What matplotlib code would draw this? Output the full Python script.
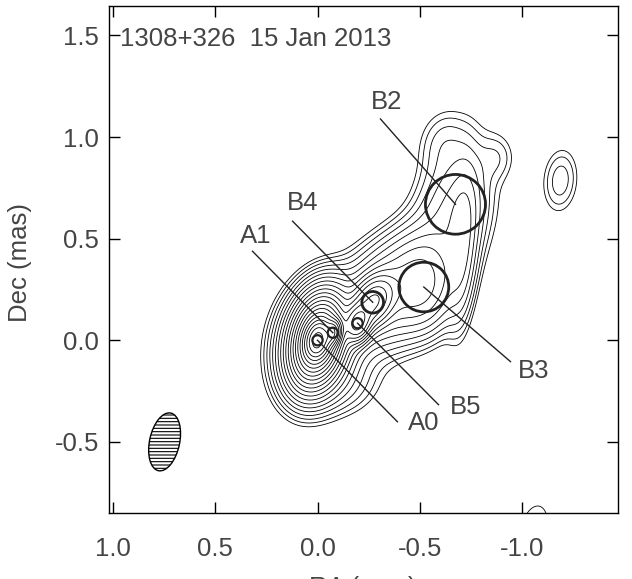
import numpy as np
import matplotlib
matplotlib.use("Agg")
import matplotlib.pyplot as plt
from matplotlib.patches import Circle, Ellipse

plt.rcParams['font.family'] = ['Liberation Sans', 'DejaVu Sans']
plt.rcParams['hatch.linewidth'] = 0.8

TEXT_COL = '#444444'

# model components (RA mas, Dec mas, peak, FWHM major, FWHM minor, PA deg)
src_ra = [0.0, 0.0, 0.0, 0.0, 0.0, -0.075, -0.196, -0.27, -0.38, -0.52, -0.62, -0.71, -0.675, -0.62, -0.88, 0.02, -1.188, -1.06, -0.1]
src_dec = [0.0, 0.0, 0.0, 0.0, -0.05, 0.037, 0.084, 0.187, 0.25, 0.26, 0.55, 0.45, 0.669, 0.98, 0.9, 0.54, 0.786, -0.93, -0.22]
src_amp = [0.5, 0.28, 0.09, 0.01, 0.0012, 0.25, 0.06, 0.04, 0.01, 0.006, 0.0022, 0.004, 0.002, 0.0013, 0.0009, 0.0006, 0.0017, 0.0012, 0.0015]
src_maj = [0.11, 0.19, 0.29, 0.36, 0.5, 0.08, 0.12, 0.18, 0.45, 0.3, 0.7, 0.55, 0.35, 0.26, 0.18, 0.1, 0.26, 0.26, 0.22]
src_min = [0.07, 0.11, 0.165, 0.25, 0.36, 0.05, 0.08, 0.12, 0.3, 0.2, 0.28, 0.1, 0.25, 0.2, 0.14, 0.08, 0.14, 0.14, 0.3]
src_pa = [-12, -12, -12, -12, -12, -12, -12, -30, -45, 0, -20, -3, 0, -10, 0, 0, -5, -12, 0]

# contour levels: lowest level, doubling every two steps
lowest = 0.00069
n_levels = 22

# fitted components
comp_names = ['A0', 'A1', 'B5', 'B4', 'B3', 'B2']
comp_ra = [0.0, -0.075, -0.196, -0.27, -0.52, -0.675]
comp_dec = [0.0, 0.037, 0.084, 0.187, 0.262, 0.669]
comp_radius = [0.025, 0.025, 0.025, 0.053, 0.122, 0.147]

# restoring beam
beam_maj = 0.29
beam_min = 0.147
beam_pa = -12

# label text positions and leader line ends
label_pos = {'A0': (-0.518, -0.406), 'A1': (0.303, 0.512), 'B5': (-0.724, -0.327),
             'B4': (0.073, 0.674), 'B3': (-1.056, -0.149), 'B2': (-0.337, 1.173)}
line_end = {'A0': (-0.391, -0.401), 'A1': (0.318, 0.438), 'B5': (-0.592, -0.317),
            'B4': (0.122, 0.586), 'B3': (-0.944, -0.105), 'B2': (-0.308, 1.089)}

x = np.linspace(-1.6, 1.1, 700)
y = np.linspace(-1.1, 1.8, 700)
X, Y = np.meshgrid(x, y)
Z = np.zeros_like(X)
for ra, dec, a, mj, mn, pa in zip(src_ra, src_dec, src_amp, src_maj, src_min, src_pa):
    t = np.radians(pa)
    dx = X - ra
    dy = Y - dec
    u = dx * np.sin(t) + dy * np.cos(t)   # along major axis
    v = dx * np.cos(t) - dy * np.sin(t)
    sj = mj / 2.3548
    sn = mn / 2.3548
    Z += a * np.exp(-0.5 * ((u / sj) ** 2 + (v / sn) ** 2))

levels = lowest * 2 ** (np.arange(n_levels) / 2.0)

fig = plt.figure(figsize=(6.32, 5.79), dpi=100)
ax = fig.add_axes([109 / 632, 66 / 579, 509 / 632, 507 / 579])
ax.contour(X, Y, Z, levels=levels, colors='k', linewidths=0.6)

for name, ra, dec, r in zip(comp_names, comp_ra, comp_dec, comp_radius):
    lw = 2.0 if r > 0.04 else 1.6
    ax.add_patch(Circle((ra, dec), r, fill=False, ec='#222222', lw=lw, zorder=4))
    ex, ey = line_end[name]
    ax.plot([ra, ex], [dec, ey], color='#222222', lw=1.0, zorder=4)
    lx, ly = label_pos[name]
    ax.text(lx, ly, name, fontsize=18.5, color=TEXT_COL, ha='center', va='center', zorder=5)

ax.add_patch(Ellipse((0.748, -0.5), beam_min, beam_maj, angle=-beam_pa,
                     fc='white', ec='k', lw=1.0, hatch='-----'))

ax.set_xlim(1.02, -1.47)
ax.set_ylim(-0.85, 1.645)
ax.set_xticks([1.0, 0.5, 0.0, -0.5, -1.0])
ax.set_yticks([-0.5, 0.0, 0.5, 1.0, 1.5])
ax.set_xticklabels(['1.0', '0.5', '0.0', '-0.5', '-1.0'])
ax.set_yticklabels(['-0.5', '0.0', '0.5', '1.0', '1.5'])
ax.tick_params(direction='in', top=True, right=True, length=8, width=1.0,
               labelsize=18.5, labelcolor=TEXT_COL)
ax.tick_params(axis='x', pad=17)
ax.tick_params(axis='y', pad=7)
for s in ax.spines.values():
    s.set_linewidth(1.0)

fig.text(120 / 632, 1 - 46 / 579, '1308+326  15 Jan 2013', fontsize=18.5,
         color=TEXT_COL, ha='left', va='baseline')
fig.text(20 / 632, 1 - 262 / 579, 'Dec (mas)', fontsize=18.5, color=TEXT_COL,
         rotation=90, ha='center', va='center')
# the x label sits mostly below the bottom edge, as in the original figure
fig.text(363 / 632, 2.5 / 579, 'RA (mas)', fontsize=18.5, color=TEXT_COL,
         ha='center', va='top')

fig.savefig('out.png', dpi=100)
